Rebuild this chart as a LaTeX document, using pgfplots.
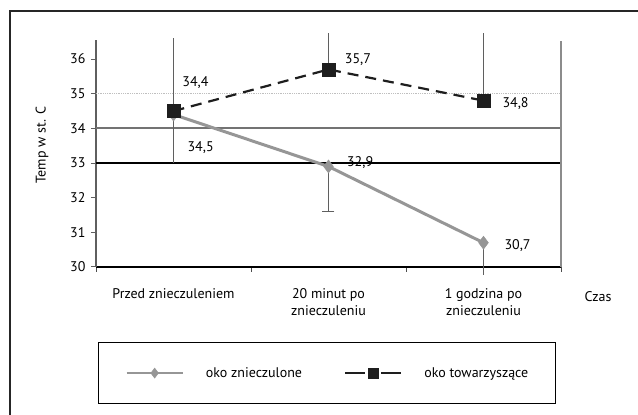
\documentclass[border=0pt]{standalone}
\usepackage{pgfplots}
\pgfplotsset{compat=1.18}
\usepackage{fontspec}
\setmainfont{PT Sans}
\definecolor{ser1}{RGB}{150,150,150}
\definecolor{ser2}{RGB}{30,30,30}
\definecolor{errc}{RGB}{95,95,95}
\begin{document}
\begin{tikzpicture}[x=1pt,y=1pt,font=\fontsize{14}{16.5}\selectfont]
\useasboundingbox (0pt,0pt) rectangle (638pt,415pt);
\draw[line width=1.2pt, black!85] (10pt,0pt) -- (10pt,404pt) -- (638pt,404pt);
\node[rotate=90] at (42pt,270pt) {Temp w st. C};
\node at (598pt,118pt) {Czas};
\begin{axis}[at={(96pt,148pt)}, anchor=south west, scale only axis,
  width=465pt, height=227pt,
  xmin=-0.5, xmax=2.5, ymin=30, ymax=36.55,
  clip=false,
  axis x line*=bottom, axis y line*=left,
  x axis line style={-, black, line width=1.4pt},
  y axis line style={-, errc, line width=1.2pt},
  xtick={-0.5,0.5,1.5,2.5}, xticklabels={},
  x tick style={black!70, line width=0.8pt}, xtick align=outside, major tick length=5pt,
  ytick={30,31,32,33,34,35,36},
  y tick style={errc, line width=1pt}, ytick align=outside,
  /pgf/number format/assume math mode=true,
  yticklabel style={font=\fontsize{14}{16.5}\selectfont, xshift=-2pt},
  extra x ticks={0,1,2},
  extra x tick labels={Przed znieczuleniem, 20 minut po\\znieczuleniu, 1 godzina po\\znieczuleniu},
  extra x tick style={major tick length=0pt, tick label style={align=center, anchor=north, yshift=-18pt, font=\fontsize{14}{17}\selectfont}},
  legend columns=2,
  legend style={at={(0,0)}, anchor=north west, xshift=2pt, yshift=-75pt,
    draw=black, line width=0.8pt, inner xsep=27pt, inner ysep=25pt,
    nodes={inner sep=0pt, font=\fontsize{14}{16.5}\selectfont},
    /tikz/every odd column/.append style={column sep=22pt},
    /tikz/every even column/.append style={column sep=42pt}},
  legend image code/.code={\draw[mark repeat=2,mark phase=2,#1] plot coordinates {(0pt,0pt) (28pt,0pt) (56pt,0pt)};},
]
% reference lines
\draw[black!25, densely dotted, line width=0.8pt] (axis cs:-0.5,35) -- (axis cs:2.5,35);
\draw[black!55, line width=1.8pt] (axis cs:-0.5,34) -- (axis cs:2.5,34);
\draw[black, line width=1.4pt] (axis cs:-0.5,33) -- (axis cs:2.5,33);
\draw[black!45, line width=1.2pt] (axis cs:2.5,30) -- (axis cs:2.5,36.52);
% error bars of the grey series
\addplot[draw=none, forget plot, error bars/.cd, y dir=both, y explicit,
  error bar style={errc, line width=1.2pt}, error mark options={rotate=90, mark size=6pt, errc, line width=1.2pt}]
  coordinates {(1,32.9) -= (0,1.3)};
\addplot[draw=none, forget plot, error bars/.cd, y dir=both, y explicit,
  error bar style={errc, line width=1.2pt}, error mark=none]
  coordinates {(2,30.7) -= (0,0.93)};
% error bars of the black series
\addplot[draw=none, forget plot, error bars/.cd, y dir=both, y explicit,
  error bar style={errc, line width=1.2pt}, error mark=none]
  coordinates {(0,34.5) += (0,2.1) -= (0,1.5) (1,35.7) += (0,1.04) (2,34.8) += (0,1.94)};
% series
\addplot[ser1, line width=3pt, mark=diamond*, mark size=6.5pt, mark options={solid, fill=ser1, draw=ser1, line width=0.5pt},
  legend image post style={line width=2.5pt, mark size=5pt}]
  coordinates {(0,34.4) (1,32.9) (2,30.7)};
\addlegendentry{oko znieczulone}
\addplot[ser2, line width=2.2pt, dash pattern=on 11pt off 7pt, mark=square*, mark size=6.5pt, mark options={solid, fill=ser2, draw=ser2, line width=0.5pt},
  legend image post style={dash pattern=on 20pt off 16pt, mark size=5pt}]
  coordinates {(0,34.5) (1,35.7) (2,34.8)};
\addlegendentry{oko towarzyszące}
% value labels
\node at (axis cs:0.142,35.33) {34,4};
\node at (axis cs:0.175,33.46) {34,5};
\node at (axis cs:1.19,35.99) {35,7};
\node at (axis cs:2.207,34.73) {34,8};
\node at (axis cs:1.204,33.0) {32,9};
\node at (axis cs:2.22,30.63) {30,7};
\end{axis}
\end{tikzpicture}
\end{document}
